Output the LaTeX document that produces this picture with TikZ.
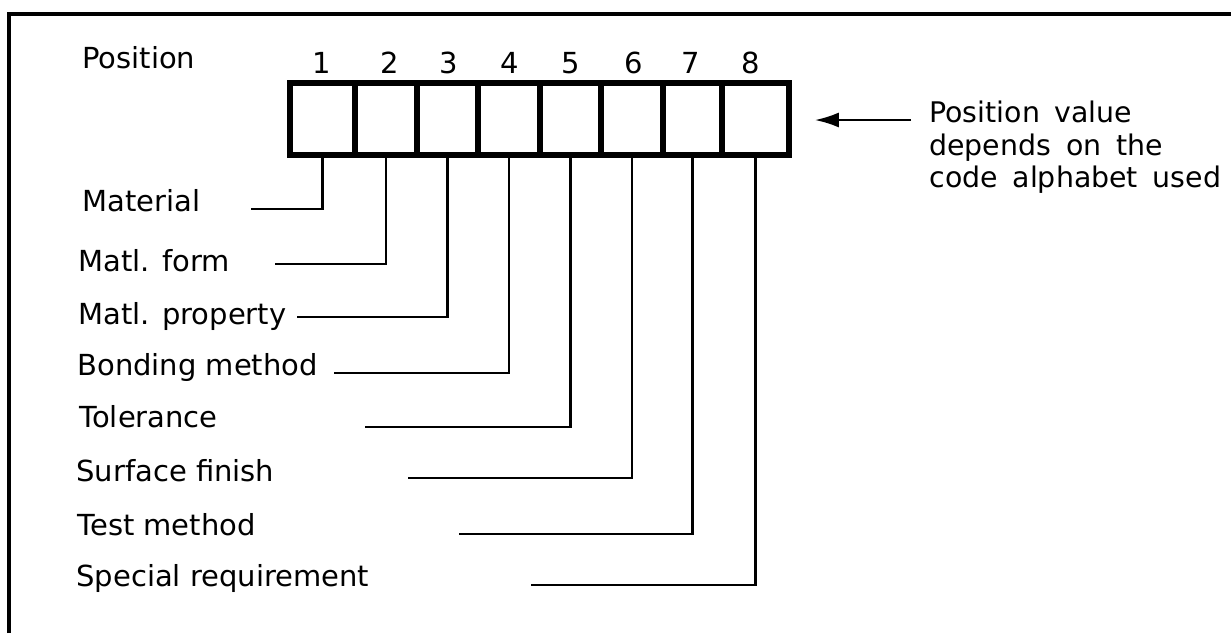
\documentclass[tikz,border=0pt]{standalone}
\usepackage{fontspec}
\setmainfont{DejaVu Sans}
\usetikzlibrary{arrows.meta,calc}
\newcommand\widespaced[1]{\spaceskip=0.52em\relax #1}
\begin{document}
\begin{tikzpicture}[x=0.5pt,y=-0.5pt,
  cell/.style={draw,line width=2.8pt,inner sep=0pt,minimum height=36pt},
  lbl/.style={anchor=base west,inner sep=0pt,font=\fontsize{14.5}{17}\selectfont},
  rtxt/.style={anchor=base west,inner sep=0pt,font=\fontsize{14.2}{17}\selectfont},
  num/.style={anchor=base,inner sep=0pt,font=\fontsize{14.5}{17}\selectfont},
  leader/.style={line width=1.2pt},
  frameline/.style={line width=2pt}]
\useasboundingbox (0,0) rectangle (1231,633);
\draw[frameline] (9,633) -- (9,14) -- (1231,14);
% cells
\foreach \i/\l/\r in {1/290/355,2/355/417,3/417/478,4/478/540,5/540/601,6/601/663,7/663/722,8/722/789}{
  \pgfmathsetmacro\w{(\r-\l)*0.5}
  \pgfmathsetmacro\cx{(\l+\r)/2}
  \node[cell,minimum width=\w pt] (c\i) at (\cx,119) {};
}
% numbers
\node[lbl] (pos) at (82,68) {Position};
\foreach \i/\x in {1/322,2/390,3/449,4/510,5/571,6/634,7/691,8/751}{
  \node[num] (n\i) at (\x,73) {\i};
}
% labels
\node[lbl] (l1) at (82,211) {Material};
\node[lbl] (l2) at (78,271) {Matl. form};
\node[lbl] (l3) at (78,324) {Matl. property};
\node[lbl] (l4) at (77,375) {Bonding method};
\node[lbl] (l5) at (79,427) {Tolerance};
\node[lbl] (l6) at (76,481) {Surface finish};
\node[lbl] (l7) at (77,535) {Test method};
\node[lbl] (l8) at (76,586) {Special requirement};
% leaders
\foreach \i/\x/\y in {1/251/209,2/275/264,3/297/317,4/334/373,5/365/427,6/408/478,7/459/534,8/531/585}{
  \coordinate (e\i) at (\x,\y);
  \draw[leader] (c\i.south) |- (e\i);
}
% right text and arrow
\node[rtxt] (r1) at (929,122) {\widespaced{Position value}};
\node[rtxt] (r2) at (929,155) {\widespaced{depends on the}};
\node[rtxt] (r3) at (929,187) {\widespaced{code alphabet used}};
\coordinate (atail) at (911,120);
\draw[leader,-{Latex[length=12pt,width=7.5pt]}] (atail) -- ([xshift=11.5pt,yshift=-0.5pt]c8.east);
\end{tikzpicture}
\end{document}
